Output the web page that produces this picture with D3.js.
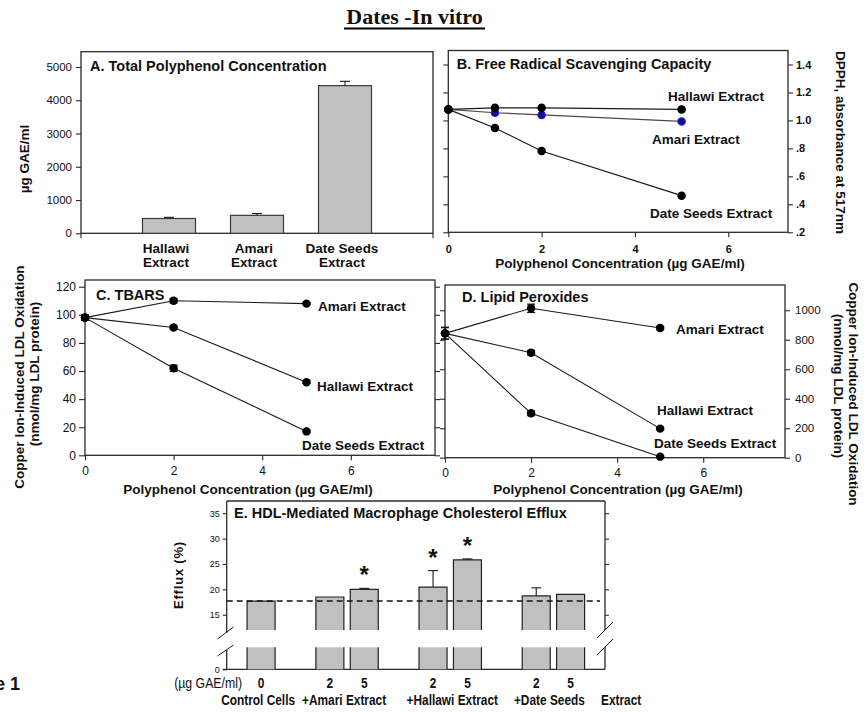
<!DOCTYPE html>
<html><head><meta charset="utf-8">
<script src="https://cdn.jsdelivr.net/npm/d3@7/dist/d3.min.js"></script>
<style>
body{margin:0;background:#fff;}
svg text{font-family:"Liberation Sans",Arial,sans-serif;fill:#111;}
</style></head><body>
<svg id="c" width="867" height="712"></svg>
<script>
// ---------------- DATA ----------------
const figTitle = "Dates -In vitro";

// Panel A
const aCategories = ["Hallawi Extract", "Amari Extract", "Date Seeds Extract"];
const aValues = [445, 540, 4440];
const aErrors = [35, 55, 130];
const aTicks = [0, 1000, 2000, 3000, 4000, 5000];

// Panel B (DPPH)
const bDoses = [0, 1, 2, 5];
const bHallawi = [1.079, 1.09, 1.09, 1.079];
const bAmari = [1.079, 1.055, 1.039, 0.993];
const bDateSeeds = [1.079, 0.946, 0.781, 0.462];
const bYTicks = [0.2, 0.4, 0.6, 0.8, 1.0, 1.2, 1.4];
const bYTickLabels = [".2", ".4", ".6", ".8", "1.0", "1.2", "1.4"];
const concTicks = [0, 2, 4, 6];

// Panel C (TBARS)
const cdDoses = [0, 2, 5];
const cAmari = [98, 110, 108];
const cAmariErr = [1.8, 1.6, 0.8];
const cHallawi = [98, 91, 52];
const cHallawiErr = [1.8, 1.0, 0.8];
const cDateSeeds = [98, 62, 17];
const cDateSeedsErr = [1.8, 2.2, 0.8];
const cYTicks = [0, 20, 40, 60, 80, 100, 120];

// Panel D (Lipid peroxides)
const dAmari = [843, 1013, 879];
const dAmariErr = [40, 28, 12];
const dHallawi = [843, 712, 197];
const dHallawiErr = [40, 15, 8];
const dDateSeeds = [843, 301, 7];
const dDateSeedsErr = [40, 15, 5];
const dYTicks = [0, 200, 400, 600, 800, 1000];

// Panel E (efflux)
const eGroupLabels = ["Control Cells", "+Amari Extract", "+Hallawi Extract", "+Date Seeds"];
const eGroupOf = [0, 1, 1, 2, 2, 3, 3];
const eDoseLabels = ["0", "2", "5", "2", "5", "2", "5"];
const eValues = [17.7, 18.5, 20.0, 20.45, 25.8, 18.7, 19.0];
const eErrors = [0, 0, 0.2, 3.25, 0.2, 1.6, 0];
const eSignificant = [false, false, true, true, true, false, false];
const eYTicks = [15, 20, 25, 30, 35];
const eControlLevel = 17.7;

// ---------------- DRAWING ----------------
const svg = d3.select("#c");
const INK = "#1a1a1a";
const FRAME = "#2a2a2a";
const intFmt = d3.format("d");

function text(x, y, s, o = {}) {
  const t = svg.append("text").attr("x", x).attr("y", y).text(s)
    .attr("font-size", o.size || 12)
    .attr("font-weight", o.bold ? "bold" : "normal")
    .attr("text-anchor", o.anchor || "start");
  if (o.rotate) t.attr("transform", `rotate(${o.rotate},${x},${y})`);
  if (o.dy) t.attr("dy", o.dy);
  return t;
}
// condensed text (narrow face emulated by horizontal scaling)
function ntext(x, y, s, o = {}) {
  return svg.append("text").attr("x", 0).attr("y", 0).text(s)
    .attr("transform", `translate(${x},${y}) scale(0.82,1)`)
    .attr("font-size", o.size || 12)
    .attr("font-weight", o.bold ? "bold" : "normal")
    .attr("text-anchor", o.anchor || "start");
}
function line(x1, y1, x2, y2, w = 1, c = INK, dash) {
  const l = svg.append("line").attr("x1", x1).attr("y1", y1).attr("x2", x2).attr("y2", y2)
    .attr("stroke", c).attr("stroke-width", w);
  if (dash) l.attr("stroke-dasharray", dash);
  return l;
}
function frame(x0, y0, x1, y1) {
  svg.append("rect").attr("x", x0).attr("y", y0).attr("width", x1 - x0).attr("height", y1 - y0)
    .attr("fill", "none").attr("stroke", FRAME).attr("stroke-width", 1.3);
}
function axisG(axis, tx, ty, size, bold) {
  const g = svg.append("g").attr("transform", `translate(${tx},${ty})`).call(axis);
  g.select(".domain").remove();
  g.selectAll(".tick line").attr("stroke", FRAME).attr("stroke-width", 1.1);
  g.selectAll(".tick text").attr("font-size", size).attr("font-weight", bold ? "bold" : "normal")
    .style("font-family", '"Liberation Sans",Arial,sans-serif').attr("fill", "#111");
  return g;
}

// Title
text(414.5, 24, figTitle, {size: 22, bold: true, anchor: "middle"})
  .style("font-family", '"Liberation Serif","Times New Roman",serif');
line(344, 28.5, 485, 28.5, 2, "#000");

// ---- Panel A ----
{
  const X0 = 81, X1 = 433, Y0 = 51.7, Y1 = 233.3;
  const x = d3.scaleLinear().domain([0, aCategories.length + 1]).range([X0, X1]);
  const y = d3.scaleLinear().domain([0, 5460]).range([Y1, Y0]);
  frame(X0, Y0, X1, Y1);
  axisG(d3.axisLeft(y).tickValues(aTicks).tickSize(5).tickPadding(4).tickFormat(intFmt), X0, 0, 11.5);
  line(X0, Y1, X0, Y1 + 5, 1.1, FRAME); line(X1, Y1, X1, Y1 + 5, 1.1, FRAME);
  const bw = 53;
  aValues.forEach((v, i) => {
    const cx = x(i + 1);
    svg.append("rect").attr("x", cx - bw / 2).attr("y", y(v)).attr("width", bw).attr("height", y(0) - y(v))
      .attr("fill", "#c0c0c0").attr("stroke", "#3a3a3a").attr("stroke-width", 1.2);
    line(cx, y(v), cx, y(v + aErrors[i]), 1.1, INK);
    line(cx - 5, y(v + aErrors[i]), cx + 5, y(v + aErrors[i]), 1.1, INK);
    const k = aCategories[i].lastIndexOf(" ");
    text(cx - 3, 253, aCategories[i].slice(0, k), {size: 13.5, bold: true, anchor: "middle"});
    text(cx - 3, 267, aCategories[i].slice(k + 1), {size: 13.5, bold: true, anchor: "middle"});
  });
  text(90, 70.7, "A. Total Polyphenol Concentration", {size: 14.5, bold: true});
  text(24, 159, "µg GAE/ml", {size: 13.5, bold: true, anchor: "middle", rotate: -90, dy: "0.35em"});
}

// ---- Panel B ----
{
  const X0 = 448.3, X1 = 788, Y0 = 50.5, Y1 = 232.3;
  const x = d3.scaleLinear().domain([0, 7.28]).range([X0, X1]);
  const y = d3.scaleLinear().domain([0.2, 1.5]).range([Y1, Y0]);
  frame(X0, Y0, X1, Y1);
  axisG(d3.axisLeft(y).tickValues(bYTicks).tickSize(5).tickFormat(""), X0, 0, 11);
  axisG(d3.axisRight(y).tickValues(bYTicks).tickSize(5).tickPadding(3)
    .tickFormat((d, i) => bYTickLabels[i]), X1, 0, 11, true);
  axisG(d3.axisBottom(x).tickValues(concTicks).tickSize(5).tickPadding(8), 0, Y1, 11, true);
  const series = [
    {v: bDateSeeds, stroke: INK, fill: "#000", ms: "#000"},
    {v: bAmari, stroke: "#4a4a4a", fill: "#101060", ms: "#1a1aff"},
    {v: bHallawi, stroke: INK, fill: "#000", ms: "#000"}
  ];
  const gen = d3.line().x((d, i) => x(bDoses[i])).y(d => y(d));
  series.forEach(s => {
    svg.append("path").attr("d", gen(s.v)).attr("fill", "none").attr("stroke", s.stroke).attr("stroke-width", 1.2);
  });
  series.forEach(s => {
    s.v.forEach((d, i) => {
      svg.append("circle").attr("cx", x(bDoses[i])).attr("cy", y(d)).attr("r", 3.6)
        .attr("fill", i === 0 ? "#000" : s.fill).attr("stroke", i === 0 ? "#000" : s.ms).attr("stroke-width", 1.3);
    });
  });
  text(456.7, 69, "B. Free Radical Scavenging Capacity", {size: 14.5, bold: true});
  text(668, 101, "Hallawi Extract", {size: 13.5, bold: true});
  text(652, 143.7, "Amari Extract", {size: 13.5, bold: true});
  text(650, 218.3, "Date Seeds Extract", {size: 13.5, bold: true});
  text(620, 268, "Polyphenol Concentration (µg GAE/ml)", {size: 13.5, bold: true, anchor: "middle"});
  text(841, 142.5, "DPPH, absorbance at 517nm", {size: 13.5, bold: true, anchor: "middle", rotate: 90, dy: "0.35em"});
}

function linePanel(X0, X1, Y0, Y1, xmax, ymax, yTicks, series, leftLabels) {
  const x = d3.scaleLinear().domain([0, xmax]).range([X0, X1]);
  const y = d3.scaleLinear().domain([0, ymax]).range([Y1, Y0]);
  frame(X0, Y0, X1, Y1);
  if (leftLabels) {
    axisG(d3.axisLeft(y).tickValues(yTicks).tickSize(6).tickPadding(3).tickFormat(intFmt), X0, 0, 12);
    axisG(d3.axisRight(y).tickValues(yTicks).tickSize(5).tickFormat(""), X1, 0, 12);
  } else {
    axisG(d3.axisLeft(y).tickValues(yTicks).tickSize(5).tickFormat(""), X0, 0, 12);
    axisG(d3.axisRight(y).tickValues(yTicks).tickSize(5).tickPadding(5).tickFormat(intFmt), X1, 0, 11.5);
  }
  axisG(d3.axisBottom(x).tickValues(concTicks).tickSize(5).tickPadding(6), 0, Y1, 12);
  const gen = d3.line().x((d, i) => x(cdDoses[i])).y(d => y(d));
  series.forEach(s => {
    svg.append("path").attr("d", gen(s.v)).attr("fill", "none").attr("stroke", INK).attr("stroke-width", 1.1);
  });
  series.forEach(s => {
    s.v.forEach((d, i) => {
      const cx = x(cdDoses[i]), e = s.e[i];
      line(cx, y(d - e), cx, y(d + e), 1.3, INK);
      line(cx - 4, y(d + e), cx + 4, y(d + e), 1.3, INK);
      line(cx - 4, y(d - e), cx + 4, y(d - e), 1.3, INK);
      svg.append("circle").attr("cx", cx).attr("cy", y(d)).attr("r", 4.2).attr("fill", "#000");
    });
  });
  return {x, y};
}

// ---- Panel C ----
linePanel(85, 435, 280, 455.3, 7.9, 124.8, cYTicks, [
  {v: cAmari, e: cAmariErr}, {v: cHallawi, e: cHallawiErr}, {v: cDateSeeds, e: cDateSeedsErr}
], true);
text(96, 300, "C. TBARS", {size: 14.5, bold: true});
text(318, 310.7, "Amari Extract", {size: 13.5, bold: true});
text(317, 390.7, "Hallawi Extract", {size: 13.5, bold: true});
text(302, 450, "Date Seeds Extract", {size: 13.5, bold: true});
text(248, 494, "Polyphenol Concentration (µg GAE/ml)", {size: 13.5, bold: true, anchor: "middle"});
text(19.5, 377, "Copper Ion-Induced LDL Oxidation", {size: 13.5, bold: true, anchor: "middle", rotate: -90, dy: "0.35em"});
text(34.5, 374, "(nmol/mg LDL protein)", {size: 13.5, bold: true, anchor: "middle", rotate: -90, dy: "0.35em"});

// ---- Panel D ----
linePanel(445, 785, 285, 457.7, 7.9, 1171, dYTicks, [
  {v: dAmari, e: dAmariErr}, {v: dHallawi, e: dHallawiErr}, {v: dDateSeeds, e: dDateSeedsErr}
], false);
text(462, 302, "D. Lipid Peroxides", {size: 14.5, bold: true});
text(676, 334, "Amari Extract", {size: 13.5, bold: true});
text(657, 414.7, "Hallawi Extract", {size: 13.5, bold: true});
text(654, 447.7, "Date Seeds Extract", {size: 13.5, bold: true});
text(618, 494, "Polyphenol Concentration (µg GAE/ml)", {size: 13.5, bold: true, anchor: "middle"});
text(853.5, 394, "Copper Ion-Induced LDL Oxidation", {size: 13.5, bold: true, anchor: "middle", rotate: 90, dy: "0.35em"});
text(838.5, 386, "(nmol/mg LDL protein)", {size: 13.5, bold: true, anchor: "middle", rotate: 90, dy: "0.35em"});

// ---- Panel E ----
{
  const X0 = 226.7, X1 = 605, YT = 501, YB = 630, YL0 = 669.3, YLT = 647.3;
  const slot = eValues.map((v, i) => i + 1 + eGroupOf[i]);
  const x = d3.scaleLinear().domain([0, 11]).range([X0, X1]);
  const yU = d3.scaleLinear().domain([12, 37.4]).range([YB, YT]);
  const yL = d3.scaleLinear().domain([0, 12]).range([YL0, YLT]);
  // frame pieces
  line(X0, YT, X1, YT, 1.3, FRAME);
  line(X0, YT, X0, 633, 1.3, FRAME); line(X1, YT, X1, 630, 1.3, FRAME);
  line(X0, 650, X0, YL0, 1.3, FRAME); line(X1, 647, X1, YL0, 1.3, FRAME);
  line(X0 - 4, YL0, X1, YL0, 1.3, FRAME);
  // break marks
  line(217.5, 639, 233.5, 627, 1, INK); line(217.5, 656, 233.5, 645, 1, INK);
  line(597, 638, 613, 622, 1, INK); line(597, 655, 613, 639, 1, INK);
  axisG(d3.axisLeft(yU).tickValues(eYTicks).tickSize(4).tickPadding(3), X0, 0, 9);
  axisG(d3.axisRight(yU).tickValues(eYTicks).tickSize(4).tickFormat(""), X1, 0, 9);
  axisG(d3.axisLeft(yL).tickValues([0]).tickSize(4).tickPadding(3), X0, 0, 9);
  const bw = 28;
  eValues.forEach((v, i) => {
    const cx = x(slot[i]), l = cx - bw / 2, r = cx + bw / 2;
    svg.append("rect").attr("x", l).attr("y", yU(v)).attr("width", bw).attr("height", yU(12) - yU(v)).attr("fill", "#c0c0c0");
    svg.append("path").attr("d", `M${l},${yU(12)}V${yU(v)}H${r}V${yU(12)}`).attr("fill", "none").attr("stroke", "#222").attr("stroke-width", 1.2);
    svg.append("rect").attr("x", l).attr("y", yL(12)).attr("width", bw).attr("height", yL(0) - yL(12)).attr("fill", "#c0c0c0");
    svg.append("path").attr("d", `M${l},${yL(0)}V${yL(12)}M${r},${yL(12)}V${yL(0)}`).attr("fill", "none").attr("stroke", "#222").attr("stroke-width", 1.2);
    if (eErrors[i] > 0) {
      line(cx, yU(v), cx, yU(v + eErrors[i]), 1.1, INK);
      line(cx - 5, yU(v + eErrors[i]), cx + 5, yU(v + eErrors[i]), 1.1, INK);
    }
    if (eSignificant[i]) {
      text(cx, yU(v + eErrors[i]) - 5, "*", {size: 24, bold: true, anchor: "middle"});
    }
    ntext(cx, 688, eDoseLabels[i], {size: 14.5, bold: true, anchor: "middle"});
  });
  line(X0, yU(eControlLevel), 600, yU(eControlLevel), 1.5, "#111", "6,4");
  ntext(242, 688, "(µg GAE/ml)", {size: 15, anchor: "end"});
  eGroupLabels.forEach((g, gi) => {
    const idx = eGroupOf.map((d, i) => d === gi ? i : -1).filter(i => i >= 0);
    const cx = d3.mean(idx, i => x(slot[i]));
    const off = gi === 2 ? 2 : (gi === 3 ? -4 : -3);
    ntext(cx + off, 705, g, {size: 14.5, bold: true, anchor: "middle"});
  });
  ntext(601, 705, "Extract", {size: 14.5, bold: true});
  text(234, 518, "E. HDL-Mediated Macrophage Cholesterol Efflux", {size: 14.5, bold: true});
  text(178, 575, "Efflux (%)", {size: 13, bold: true, anchor: "middle", rotate: -90, dy: "0.35em"}).attr("letter-spacing", 0.8);
}

// Figure label (cropped at the left edge)
text(20, 690, "Figure 1", {size: 18, bold: true, anchor: "end"});
</script>
</body></html>
